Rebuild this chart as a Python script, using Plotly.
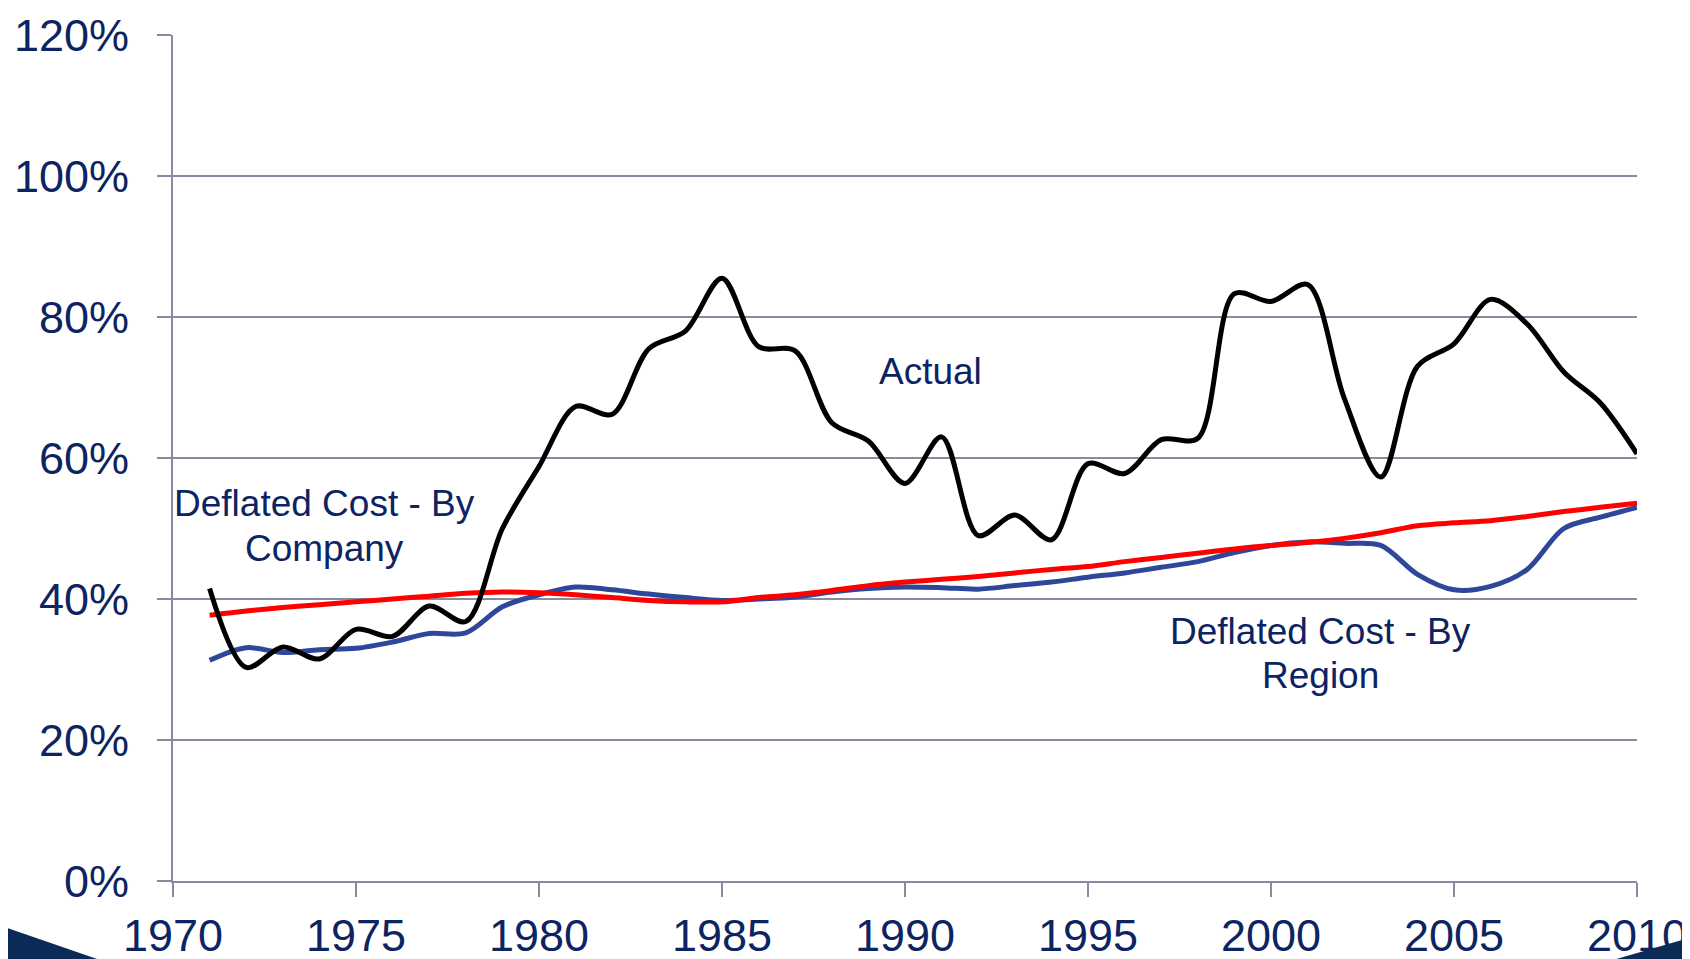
import plotly.graph_objects as go

years = list(range(1971, 2011))

actual = [41.5, 30.3, 33.2, 31.5, 35.7, 34.7, 39.0, 36.8, 50.0, 58.8,
          67.3, 66.2, 75.5, 78.0, 85.5, 75.8, 75.2, 65.0, 62.4, 56.4,
          63.0, 49.0, 51.9, 48.4, 59.2, 57.8, 62.6, 62.8, 83.3, 82.2,
          84.6, 68.5, 57.3, 73.0, 76.2, 82.5, 79.0, 72.2, 67.8, 60.6]

by_company = [37.7, 38.3, 38.8, 39.2, 39.6, 40.0, 40.4, 40.8, 41.0, 40.9,
              40.6, 40.2, 39.8, 39.6, 39.6, 40.2, 40.6, 41.2, 41.9, 42.4,
              42.8, 43.2, 43.7, 44.2, 44.6, 45.3, 45.9, 46.5, 47.1, 47.6,
              48.0, 48.6, 49.4, 50.4, 50.8, 51.1, 51.7, 52.4, 53.0, 53.6]

by_region = [31.3, 33.1, 32.4, 32.8, 33.0, 33.9, 35.1, 35.2, 38.9, 40.6,
             41.7, 41.3, 40.7, 40.2, 39.8, 40.0, 40.3, 41.0, 41.5, 41.7,
             41.6, 41.4, 41.9, 42.4, 43.1, 43.7, 44.5, 45.3, 46.6, 47.6,
             48.1, 47.9, 47.6, 43.5, 41.3, 41.8, 44.2, 50.0, 51.6, 53.0]

x_ticks = [1970, 1975, 1980, 1985, 1990, 1995, 2000, 2005, 2010]
y_ticks = [0, 20, 40, 60, 80, 100, 120]

TEXT = "#0C2461"
GRID = "#878B9F"

fig = go.Figure()
fig.add_trace(go.Scatter(x=years, y=by_region, mode="lines", name="Deflated Cost - By Region",
                         line=dict(color="#2E479B", width=5, shape="spline", smoothing=0.9)))
fig.add_trace(go.Scatter(x=years, y=by_company, mode="lines", name="Deflated Cost - By Company",
                         line=dict(color="#FF0000", width=5, shape="spline", smoothing=0.9)))
fig.add_trace(go.Scatter(x=years, y=actual, mode="lines", name="Actual",
                         line=dict(color="#000000", width=5, shape="spline", smoothing=0.9)))

ann_font = dict(family="Liberation Sans, Arial", size=37, color=TEXT)
labels = [
    ("Actual", 1990.7, 72.2),
    ("Deflated Cost - By", 1974.13, 53.5),
    ("Company", 1974.13, 47.2),
    ("Deflated Cost - By", 2001.34, 35.4),
    ("Region", 2001.34, 29.1),
]
for txt, lx, ly in labels:
    fig.add_annotation(x=lx, y=ly, text=txt, showarrow=False,
                       xanchor="center", yanchor="middle", font=ann_font)

# page has an 8px body margin; figure sized to fit the 1690x959 window
OFF = 8
W, H = 1690 - OFF, 959 - OFF
# plot area in window pixels: x 173..1637, y 35..881
L, T = 173 - OFF, 35 - OFF
R = W - (1637 - OFF)
B = H - (881 - OFF)
pw, ph = W - L - R, H - T - B

def px(xs):  # window pixel -> paper x
    return (xs - OFF - L) / pw

def py(ys):  # window pixel -> paper y
    return (H - B - (ys - OFF)) / ph

fig.add_shape(type="path", xref="paper", yref="paper", layer="above",
              path=f"M {px(-10)} {py(922)} L {px(100)} {py(960)} L {px(-10)} {py(960)} Z",
              fillcolor="#0B2A55", line=dict(width=0))
fig.add_shape(type="path", xref="paper", yref="paper", layer="above",
              path=f"M {px(1613)} {py(960)} L {px(1692)} {py(937)} L {px(1692)} {py(960)} Z",
              fillcolor="#0B2A55", line=dict(width=0))

fig.update_layout(
    width=W, height=H,
    margin=dict(l=L, r=R, t=T, b=B, autoexpand=False),
    paper_bgcolor="white", plot_bgcolor="white",
    showlegend=False,
    font=dict(family="Liberation Sans, Arial", color=TEXT),
)
fig.update_xaxes(range=[1970, 2010], tickvals=x_ticks, ticktext=[str(v) for v in x_ticks],
                 showgrid=False, zeroline=False, automargin=False,
                 showline=True, linecolor=GRID, linewidth=2,
                 ticks="outside", ticklen=14, tickwidth=2, tickcolor=GRID,
                 tickfont=dict(size=45, color=TEXT), ticklabelstandoff=0)
fig.update_yaxes(range=[0, 120], tickvals=y_ticks, ticktext=[f"{v}%" for v in y_ticks],
                 showgrid=True, gridcolor=GRID, gridwidth=2, zeroline=False, automargin=False,
                 showline=True, linecolor=GRID, linewidth=2,
                 ticks="outside", ticklen=14, tickwidth=2, tickcolor=GRID,
                 tickfont=dict(size=45, color=TEXT), ticklabelstandoff=19)

fig.write_html("out.html")
